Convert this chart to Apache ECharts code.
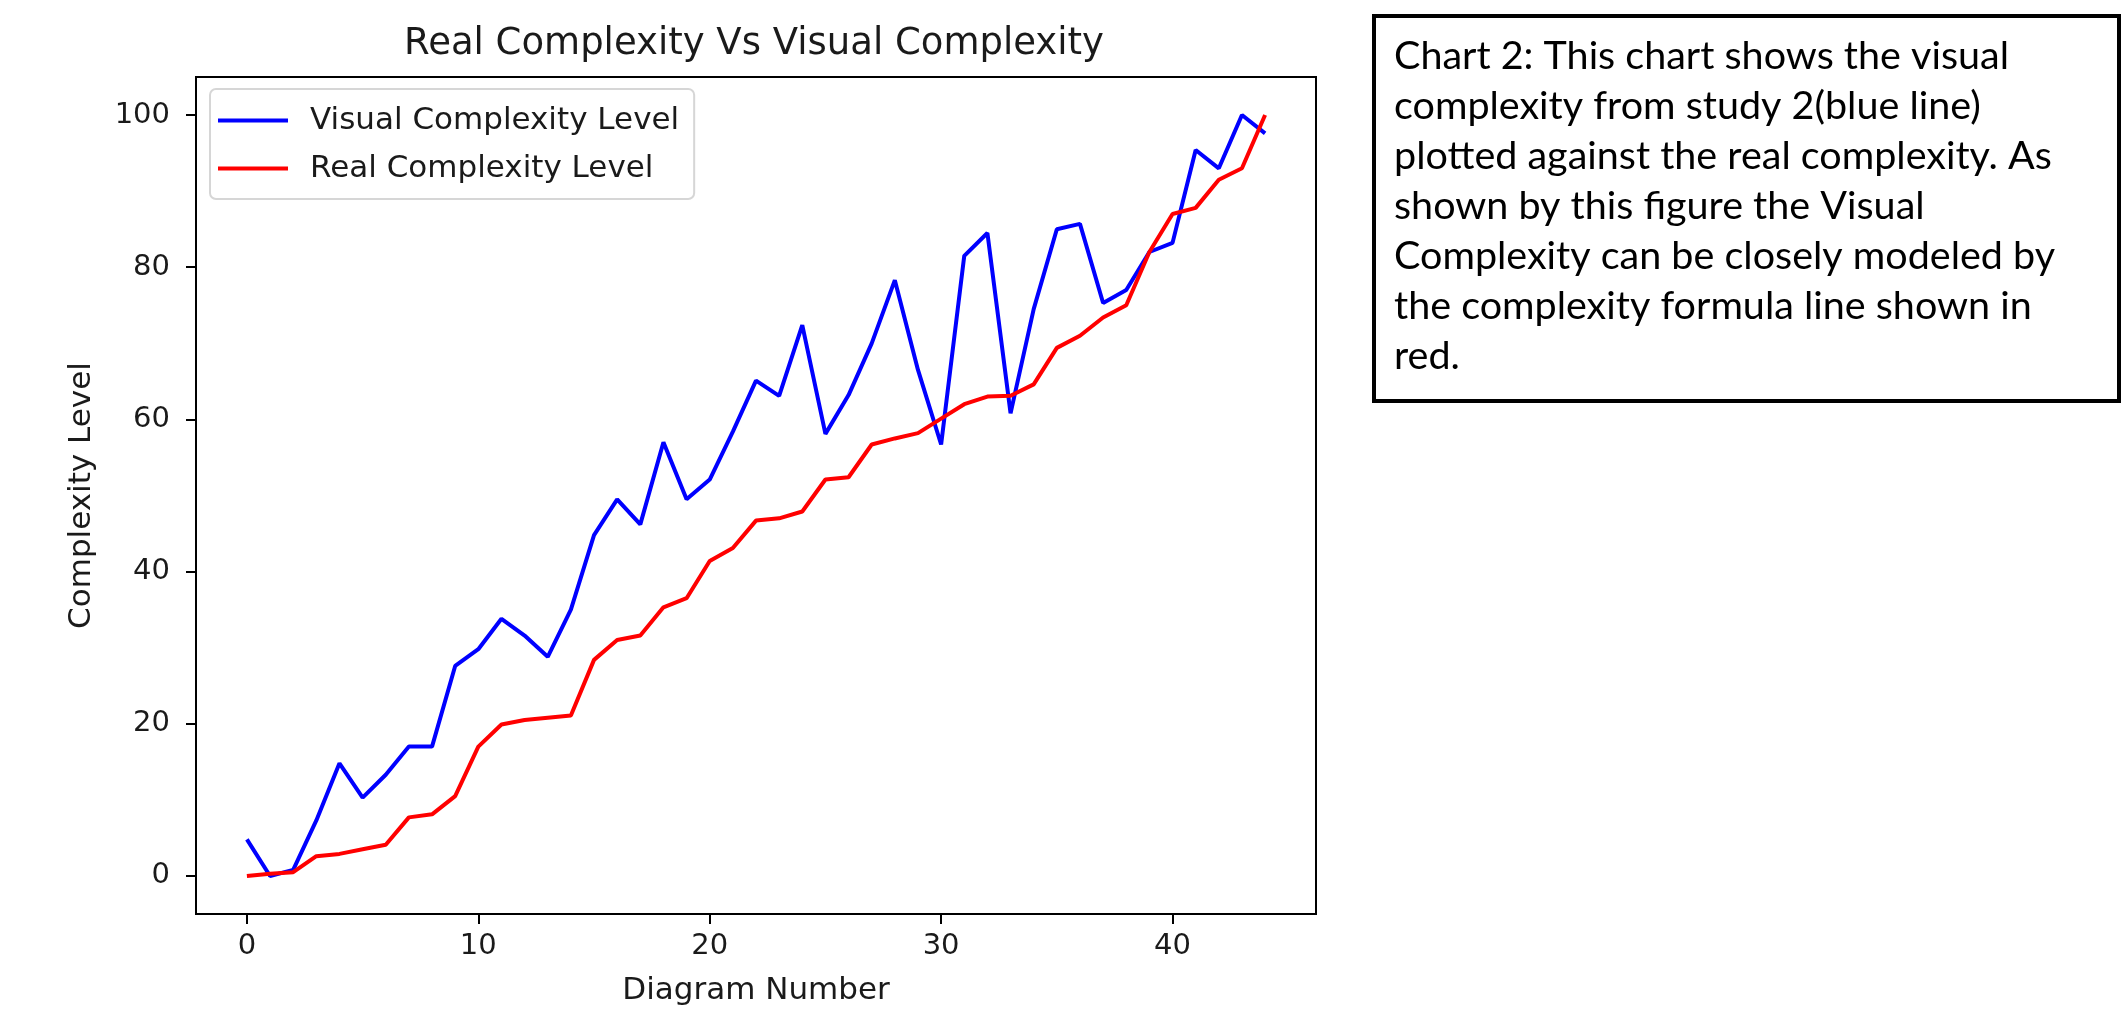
<!DOCTYPE html>
<html>
<head>
<meta charset="utf-8">
<script src="https://cdn.jsdelivr.net/npm/echarts@6/dist/echarts.min.js"></script>
<style>
html,body{margin:0;padding:0;background:#fff;}
#chart{width:2123px;height:1011px;}
</style>
</head>
<body>
<div id="chart"></div>
<script>
// Data
const diagramNumbers = [0,1,2,3,4,5,6,7,8,9,10,11,12,13,14,15,16,17,18,19,20,21,22,23,24,25,26,27,28,29,30,31,32,33,34,35,36,37,38,39,40,41,42,43,44];
const visualComplexity = [4.8,0,0.8,7.3,14.8,10.3,13.3,17,17,27.6,29.8,33.8,31.6,28.8,35,44.8,49.5,46.2,57,49.5,52.1,58.4,65.1,63.1,72.4,58.1,63.2,70,78.3,66.5,56.7,81.5,84.5,60.8,74.5,85,85.7,75.3,77,82,83.2,95.4,93,100,97.6];
const realComplexity = [0,0.3,0.5,2.6,2.9,3.5,4.1,7.7,8.1,10.5,17,19.9,20.5,20.8,21.1,28.4,31,31.6,35.3,36.5,41.4,43.1,46.7,47,47.9,52.1,52.4,56.7,57.5,58.2,60.1,62,63,63.1,64.6,69.4,71,73.4,75,82,87,87.8,91.5,93,100];
const xTicks = [0,10,20,30,40];
const yTicks = [0,20,40,60,80,100];
const seriesNames = ['Visual Complexity Level','Real Complexity Level'];
const titleText = 'Real Complexity Vs Visual Complexity';
const xName = 'Diagram Number';
const yName = 'Complexity Level';
const noteLines = [
  'Chart 2: This chart shows the visual',
  'complexity from study 2(blue line)',
  'plotted against the real complexity. As',
  'shown by this figure the Visual',
  'Complexity can be closely modeled by',
  'the complexity formula line shown in',
  'red.'
];

const FONT = 'DejaVu Sans';
const chart = echarts.init(document.getElementById('chart'), null, {renderer:'canvas'});
const pair = (xs, ys) => xs.map((x,i)=>[x, ys[i]]);

chart.setOption({
  backgroundColor:'#ffffff',
  animation:false,
  title:{
    text:titleText,
    left:754, top:26, padding:0, textAlign:'center',
    textStyle:{fontFamily:FONT, fontSize:37, fontWeight:'normal', color:'#1a1a1a'}
  },
  legend:{
    orient:'vertical', left:210, top:89,
    padding:[16,15,15,8], itemGap:17,
    itemWidth:70, itemHeight:4, icon:'rect',
    backgroundColor:'rgba(255,255,255,0.8)',
    borderColor:'#d6d6d6', borderWidth:2, borderRadius:6,
    textStyle:{fontFamily:FONT, fontSize:31, color:'#1a1a1a', padding:[0,0,0,17]},
    data:seriesNames
  },
  grid:{left:196, top:77, width:1120, height:837, show:true, borderColor:'#000', borderWidth:2, containLabel:false},
  xAxis:{
    type:'value', min:-2.2, max:46.2,
    name:xName, nameLocation:'middle', nameGap:61,
    nameTextStyle:{fontFamily:FONT, fontSize:31, color:'#1a1a1a'},
    axisLine:{show:true, onZero:false, lineStyle:{color:'#000', width:2}},
    axisTick:{show:true, length:10, lineStyle:{color:'#000', width:2}, customValues:xTicks},
    axisLabel:{fontFamily:FONT, fontSize:29, color:'#1a1a1a', margin:18, customValues:xTicks},
    splitLine:{show:false}
  },
  yAxis:{
    type:'value', min:-5, max:105,
    name:yName, nameLocation:'middle', nameGap:99, nameRotate:90,
    nameTextStyle:{fontFamily:FONT, fontSize:31, color:'#1a1a1a'},
    axisLine:{show:true, onZero:false, lineStyle:{color:'#000', width:2}},
    axisTick:{show:true, length:10, lineStyle:{color:'#000', width:2}, customValues:yTicks},
    axisLabel:{fontFamily:FONT, fontSize:29, color:'#1a1a1a', margin:26, customValues:yTicks},
    splitLine:{show:false}
  },
  series:[
    {name:seriesNames[0], type:'line', data:pair(diagramNumbers, visualComplexity), showSymbol:false, symbol:'none',
     lineStyle:{color:'#0000ff', width:4}, itemStyle:{color:'#0000ff'}, z:2},
    {name:seriesNames[1], type:'line', data:pair(diagramNumbers, realComplexity), showSymbol:false, symbol:'none',
     lineStyle:{color:'#ff0000', width:4}, itemStyle:{color:'#ff0000'}, z:3}
  ],
  graphic:[
    {type:'rect', shape:{x:1374, y:16, width:745, height:385},
     style:{fill:'#ffffff', stroke:'#000000', lineWidth:4}},
    {type:'text', x:1394, y:31,
     style:{text:noteLines.join('\n'), font:'39.5px Lato', lineHeight:50, fill:'#000000'}}
  ]
});
</script>
</body>
</html>
